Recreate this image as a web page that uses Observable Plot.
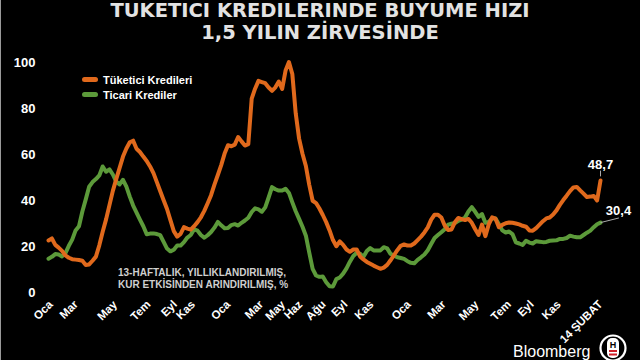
<!DOCTYPE html>
<html>
<head>
<meta charset="utf-8">
<script src="https://cdn.jsdelivr.net/npm/d3@7"></script>
<script src="https://cdn.jsdelivr.net/npm/@observablehq/plot@0.6"></script>
<style>
  html, body { margin: 0; padding: 0; background: #000; }
  #wrap { position: relative; width: 640px; height: 360px; overflow: hidden; background: #000; }
  #edge { position: absolute; left: 0; top: 0; width: 1px; height: 360px; background: #9a9a9a; }
  #chart { position: absolute; left: 0; top: 0; }
  #title { position: absolute; left: 0; top: 0; width: 640px; text-align: center;
           font-family: "DejaVu Sans", sans-serif; font-weight: bold; font-size: 19.5px; line-height: 22px; color: #e2e2e2; }
  .leg { position: absolute; font-family: "Liberation Sans", Arial, sans-serif; font-weight: bold; font-size: 11px; line-height: 14px; color: #fff; white-space: nowrap; }
  .sw { position: absolute; width: 16px; height: 5px; border-radius: 3px; }
  #note { position: absolute; left: 118px; top: 266.5px; font-family: "Liberation Sans", Arial, sans-serif; font-weight: bold;
          font-size: 10px; line-height: 12.3px; color: #cfcfcf; white-space: nowrap; }
  #bb { position: absolute; left: 513px; top: 343.5px; font-family: "Liberation Sans", Arial, sans-serif; font-size: 16px; line-height: 16px; color: #fff; }
  #logo { position: absolute; left: 598px; top: 333px; }
</style>
</head>
<body>
<div id="wrap">
  <div id="chart"></div>
  <div id="edge"></div>
  <div id="title"></div>
  <div id="legend"></div>
  <div id="note"></div>
  <div id="bb">Bloomberg</div>
  <svg id="logo" width="32" height="30">
    <circle cx="15" cy="15" r="12.5" fill="none" stroke="#fff" stroke-width="2.2"></circle>
    <rect x="9" y="5" width="12" height="20" rx="5" fill="#fff"></rect>
    <text x="15" y="14.5" text-anchor="middle" font-family="Liberation Sans, Arial" font-weight="bold" font-size="9" fill="#000">H</text>
    <rect x="11" y="17" width="8" height="2" fill="#d0202a"></rect>
    <rect x="11" y="20.5" width="8" height="2" fill="#d0202a"></rect>
  </svg>
</div>
<script>
// ---- data (weekly, 13-week annualized growth, %) ----
const titleLines = ["TUKETICI KREDILERINDE BUYUME HIZI", "1,5 YILIN ZİRVESİNDE"];
const seriesNames = ["Tüketici Kredileri", "Ticari Krediler"];
const noteLines = ["13-HAFTALIK, YILLIKLANDIRILMIŞ,", "KUR ETKİSİNDEN ARINDIRILMIŞ, %"];
const firstWeek = "2018-12-31";

const tuketici = [
  22.6, 23.5, 20.7, 19.5, 18.1, 16.1, 15.1, 14.5, 14.3, 14.1,
  13.8, 12.0, 12.2, 13.8, 15.6, 20.5, 26.4, 31.8, 38.0, 44.2,
  49.3, 54.2, 59.1, 62.6, 65.3, 66.0, 62.5, 61.1, 59.1, 57.2,
  54.8, 51.9, 48.0, 44.0, 40.1, 36.3, 31.5, 26.7, 24.3, 25.5,
  28.4, 27.8, 27.3, 28.8, 30.6, 32.7, 35.5, 38.8, 42.3, 46.9,
  51.1, 55.4, 60.4, 64.0, 63.6, 64.3, 67.6, 65.7, 63.9, 64.5,
  84.3, 88.6, 92.0, 91.5, 91.0, 89.1, 87.7, 89.2, 91.7, 88.5,
  96.5, 100.2, 95.0, 77.9, 66.9, 60.3, 55.0, 46.8, 39.9, 38.9,
  36.5, 33.7, 30.6, 27.0, 22.8, 20.1, 22.2, 20.7, 18.7, 17.7,
  18.7, 18.7, 15.7, 14.4, 13.3, 12.5, 11.7, 11.0, 10.3, 10.8,
  12.0, 14.0, 16.2, 18.4, 20.3, 20.9, 20.4, 20.4, 21.3, 22.8,
  24.3, 26.1, 28.3, 31.7, 33.8, 33.8, 32.6, 29.1, 27.2, 27.4,
  30.5, 32.4, 31.9, 31.5, 32.0, 30.3, 27.5, 25.0, 29.5, 24.5,
  29.6, 32.7, 32.1, 28.4, 29.4, 30.1, 30.4, 30.3, 30.0, 29.6,
  29.0, 28.6, 27.0, 26.9, 28.0, 29.5, 31.0, 32.2, 32.6, 33.9,
  35.7, 38.1, 40.2, 42.1, 44.1, 45.7, 45.9, 44.4, 43.0, 41.5,
  41.7, 42.0, 40.0, 48.7
];

const ticari = [
  14.7, 15.5, 16.7, 16.5, 15.7, 17.1, 20.3, 23.0, 27.0, 28.8,
  35.2, 40.5, 46.0, 48.0, 49.3, 50.9, 54.8, 52.5, 53.5, 51.3,
  48.2, 47.0, 49.0, 46.0, 41.7, 37.8, 34.7, 31.7, 28.8, 25.3,
  25.6, 25.7, 25.4, 24.9, 22.0, 19.1, 17.9, 18.6, 20.4, 20.4,
  21.9, 23.9, 25.0, 27.5, 26.9, 25.0, 23.8, 24.9, 26.3, 28.2,
  30.7, 29.2, 27.9, 28.0, 29.3, 29.7, 29.1, 30.3, 31.3, 32.5,
  35.0, 36.6, 36.1, 35.1, 37.0, 41.3, 45.8, 44.9, 44.3, 44.3,
  45.1, 43.3, 39.2, 35.3, 32.0, 28.6, 24.7, 17.3, 10.3, 7.4,
  6.8, 7.0, 4.5, 2.7, 2.6, 5.8, 6.5, 8.2, 10.5, 13.4,
  15.9, 17.3, 16.9, 15.5, 18.0, 19.3, 18.3, 18.3, 18.3, 19.7,
  19.2, 16.8, 16.0, 15.3, 15.0, 14.6, 13.6, 12.9, 12.7, 14.2,
  15.3, 16.5, 18.4, 21.1, 23.7, 25.0, 26.2, 27.5, 29.5, 29.9,
  30.2, 31.2, 31.7, 32.6, 35.2, 37.1, 35.1, 32.9, 34.1, 30.3,
  30.7, 32.2, 32.2, 29.7, 27.0, 26.1, 26.5, 25.4, 21.8, 21.3,
  20.7, 22.5, 21.7, 21.3, 22.3, 22.1, 21.9, 22.0, 22.5, 22.6,
  22.7, 23.3, 23.3, 23.7, 24.7, 24.3, 24.0, 24.0, 25.0, 26.0,
  26.9, 28.4, 29.7, 30.4
];

const tickDates = [
  "2019-01-05", "2019-02-26", "2019-05-18", "2019-07-26", "2019-09-19", "2019-10-26",
  "2020-01-07", "2020-03-15", "2020-04-29", "2020-06-04", "2020-07-22", "2020-09-05",
  "2020-10-29", "2021-01-14", "2021-03-27", "2021-06-03", "2021-08-09", "2021-09-25",
  "2021-11-20", "2022-02-14"
];
const tickLabels = ["Oca", "Mar", "May", "Tem", "Eyl", "Kas", "Oca", "Mar", "May", "Haz", "Ağu",
  "Eyl", "Kas", "Oca", "Mar", "May", "Tem", "Eyl", "Kas", "14 ŞUBAT"];
const endLabels = ["48,7", "30,4"];

const colors = ["#e0691c", "#5c9a3a"];

// ---- build ----
const start = new Date(firstWeek);
const dates = tuketici.map((_, i) => d3.utcDay.offset(start, 7 * i));
const orangeData = tuketici.map((v, i) => ({date: dates[i], value: v}));
const greenData = ticari.map((v, i) => ({date: dates[i], value: v}));
const ticks = tickDates.map(s => new Date(s));
const labelMap = new Map(ticks.map((d, i) => [+d, tickLabels[i]]));

const last = dates.length - 1;
const lastDate = dates[last];
const oEnd = orangeData[last], gEnd = greenData[last];

const chart = Plot.plot({
  width: 640,
  height: 360,
  marginTop: 62,
  marginBottom: 68,
  marginLeft: 48,
  marginRight: 40,
  style: {background: "transparent", color: "#fff", fontFamily: "Liberation Sans, Arial, sans-serif"},
  x: {type: "utc", domain: [dates[0], lastDate]},
  y: {domain: [0, 100]},
  marks: [
    Plot.axisY([0, 20, 40, 60, 80, 100], {tickSize: 0, tickPadding: 13, fontSize: 13, fontWeight: "bold", fill: "#fff", label: null}),
    Plot.axisX(ticks, {tickSize: 0, tickPadding: 10, tickRotate: -45, tickFormat: d => labelMap.get(+d),
      fontSize: 11.5, fontWeight: "bold", fill: "#fff", label: null}),
    Plot.line(greenData, {x: "date", y: "value", stroke: colors[1], strokeWidth: 4, strokeLinejoin: "round", strokeLinecap: "round"}),
    Plot.line(orangeData, {x: "date", y: "value", stroke: colors[0], strokeWidth: 4, strokeLinejoin: "round", strokeLinecap: "round"}),
    Plot.link([oEnd], {x1: "date", y1: d => d.value + 1.8, x2: "date", y2: d => d.value + 4.3, stroke: "#aaa", strokeWidth: 1}),
    Plot.link([gEnd], {x1: "date", y1: "value", x2: d => d3.utcDay.offset(d.date, 38), y2: d => d.value + 2.0, stroke: "#aaa", strokeWidth: 1}),
    Plot.text([oEnd], {x: "date", y: "value", text: () => endLabels[0], dy: -16, fill: "#fff", fontSize: 13, fontWeight: "bold"}),
    Plot.text([gEnd], {x: "date", y: "value", text: () => endLabels[1], dx: 18, dy: -11.5, fill: "#fff", fontSize: 13, fontWeight: "bold"})
  ]
});
document.getElementById("chart").appendChild(chart);

document.getElementById("title").innerHTML = titleLines.join("<br>");
document.getElementById("note").innerHTML = noteLines.join("<br>");

const legend = document.getElementById("legend");
const legY = [79.5, 94.5];
seriesNames.forEach((name, i) => {
  const sw = document.createElement("div");
  sw.className = "sw";
  sw.style.left = "82px";
  sw.style.top = (legY[i] - 2.5) + "px";
  sw.style.background = colors[i];
  legend.appendChild(sw);
  const t = document.createElement("div");
  t.className = "leg";
  t.style.left = "103px";
  t.style.top = (legY[i] - 7) + "px";
  t.textContent = name;
  legend.appendChild(t);
});
</script>
</body>
</html>
